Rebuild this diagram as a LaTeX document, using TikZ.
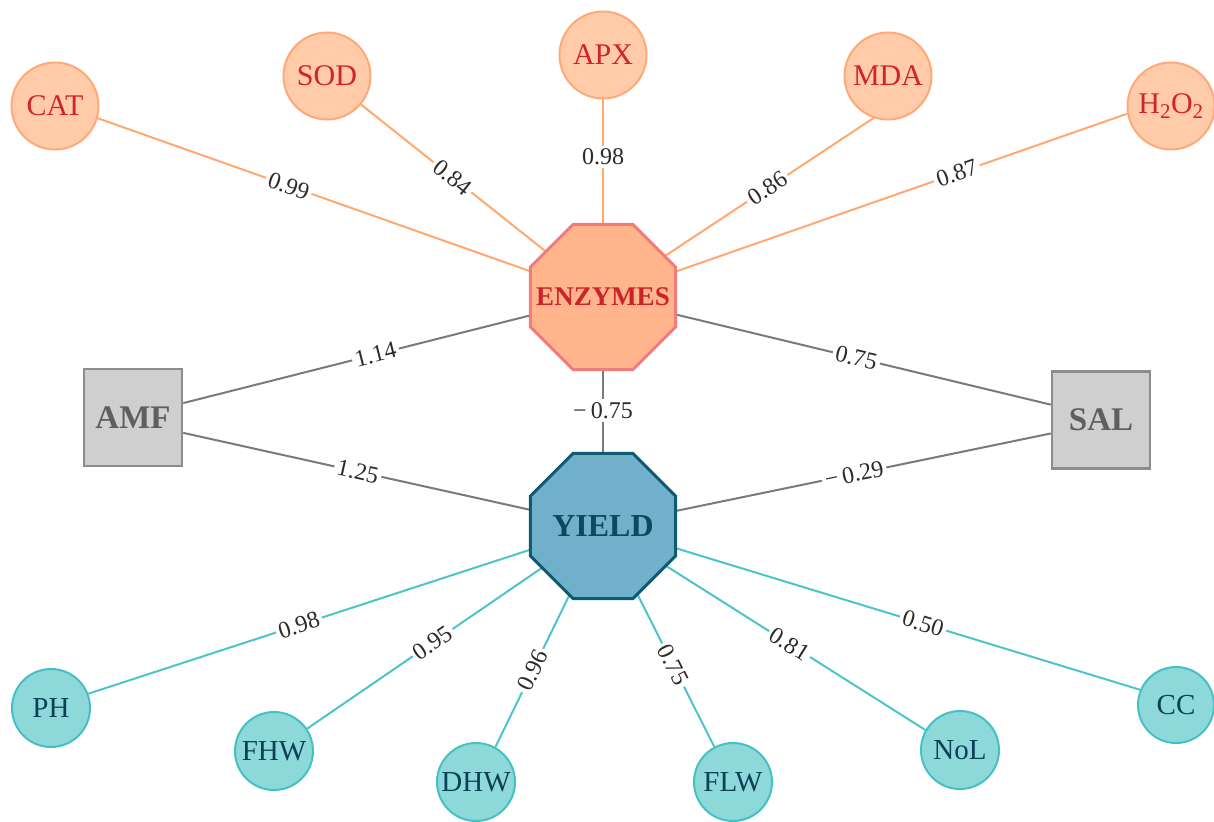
\documentclass[tikz,border=0pt]{standalone}
\usepackage{fontspec}
\setmainfont{Liberation Serif}
\usetikzlibrary{shapes.geometric}
\pgfdeclarelayer{bg}
\pgfsetlayers{bg,main}
\definecolor{topfill}{HTML}{FFCBA9}
\definecolor{topdraw}{HTML}{FFA878}
\definecolor{toptext}{HTML}{D0232A}
\definecolor{oedge}{HTML}{FFA870}
\definecolor{enzfill}{HTML}{FFB48C}
\definecolor{enzdraw}{HTML}{F27C7C}
\definecolor{enztext}{HTML}{CC2229}
\definecolor{botfill}{HTML}{8DD9DA}
\definecolor{botdraw}{HTML}{45C0C5}
\definecolor{bottext}{HTML}{0B4057}
\definecolor{tedge}{HTML}{4CC4C9}
\definecolor{yldfill}{HTML}{70B0CB}
\definecolor{ylddraw}{HTML}{0E5B72}
\definecolor{yldtext}{HTML}{0B4A5E}
\definecolor{sqfill}{HTML}{CFCFCF}
\definecolor{sqdraw}{HTML}{8C8C8C}
\definecolor{sqtext}{HTML}{5F5F5F}
\definecolor{gedge}{HTML}{7A7A7A}
\definecolor{labtext}{HTML}{2B2B2B}
\begin{document}
\begin{tikzpicture}[x=1pt,y=-1pt,
  topc/.style={circle,minimum size=87pt,inner sep=0pt,line width=2pt,draw=topdraw,fill=topfill,text=toptext,font=\fontsize{30}{36}\selectfont},
  botc/.style={circle,minimum size=78pt,inner sep=0pt,line width=2pt,draw=botdraw,fill=botfill,text=bottext,font=\fontsize{29}{34}\selectfont},
  octo/.style={regular polygon,regular polygon sides=8,minimum size=157pt,inner sep=0pt,line width=3pt},
  sqbox/.style={rectangle,minimum width=98pt,minimum height=97pt,inner sep=0pt,line width=2.5pt,draw=sqdraw,fill=sqfill,text=sqtext,font=\bfseries\fontsize{33}{38}\selectfont},
  oe/.style={draw=oedge,line width=2pt},
  te/.style={draw=tedge,line width=2pt},
  ge/.style={draw=gedge,line width=2pt},
  lab/.style={fill=white,inner sep=3pt,text=labtext,font=\fontsize{24}{28}\selectfont}]
\useasboundingbox (0,0) rectangle (1214,821);
% top nodes
\node[topc] (CAT) at (55,106) {CAT};
\node[topc] (SOD) at (327,76) {SOD};
\node[topc] (APX) at (603,55) {APX};
\node[topc] (MDA) at (888,76) {MDA};
\node[topc] (HOO) at (1171,106) {H\textsubscript{2}O\textsubscript{2}};
% hubs
\node[octo,draw=enzdraw,fill=enzfill,text=enztext,font=\bfseries\fontsize{27}{32}\selectfont] (ENZ) at (603,297) {\makebox[0pt]{ENZYMES}};
\node[octo,draw=ylddraw,fill=yldfill,text=yldtext,font=\bfseries\fontsize{32}{38}\selectfont] (YLD) at (603,526) {\makebox[0pt]{YIELD}};
\node[sqbox] (AMF) at (133,417.5) {AMF};
\node[sqbox] (SAL) at (1101,420) {SAL};
% bottom nodes
\node[botc] (PH) at (51,708) {PH};
\node[botc] (FHW) at (274,751) {FHW};
\node[botc] (DHW) at (476,782) {DHW};
\node[botc] (FLW) at (733,782) {FLW};
\node[botc] (NOL) at (960,750) {NoL};
\node[botc,minimum size=76pt] (CC) at (1176,705) {CC};
\begin{pgfonlayer}{bg}
\draw[oe] (CAT.344) -- node[lab,sloped,pos=0.378]{0.99} (ENZ.center);
\draw[oe] (SOD.320) -- node[lab,sloped,pos=0.378]{0.84} (ENZ.center);
\draw[oe] (APX.270) -- node[lab,pos=0.29]{0.98} (ENZ.center);
\draw[oe] (MDA.251) -- node[lab,sloped,pos=0.393]{0.86} (ENZ.center);
\draw[oe] (HOO.190) -- node[lab,sloped,pos=0.325]{0.87} (ENZ.center);
\draw[ge] (AMF.16) -- node[lab,sloped,pos=0.458]{1.14} (ENZ.center);
\draw[ge] (AMF.-17) -- node[lab,sloped,pos=0.416]{1.25} (YLD.center);
\draw[ge] (SAL.163) -- node[lab,sloped,pos=0.434]{0.75} (ENZ.center);
\draw[ge] (SAL.195) -- node[lab,sloped,pos=0.439]{−\,0.29} (YLD.center);
\draw[ge] (ENZ.center) -- node[lab,pos=0.496]{−\,0.75} (YLD.center);
\draw[te] (PH.21) -- node[lab,sloped,pos=0.409]{0.98} (YLD.center);
\draw[te] (FHW.34) -- node[lab,sloped,pos=0.424]{0.95} (YLD.center);
\draw[te] (DHW.61) -- node[lab,sloped,pos=0.346]{0.96} (YLD.center);
\draw[te] (FLW.118) -- node[lab,sloped,pos=0.37]{0.75} (YLD.center);
\draw[te] (NOL.150) -- node[lab,sloped,pos=0.421]{0.81} (YLD.center);
\draw[te] (CC.157) -- node[lab,sloped,pos=0.404]{0.50} (YLD.center);
\end{pgfonlayer}
\end{tikzpicture}
\end{document}
